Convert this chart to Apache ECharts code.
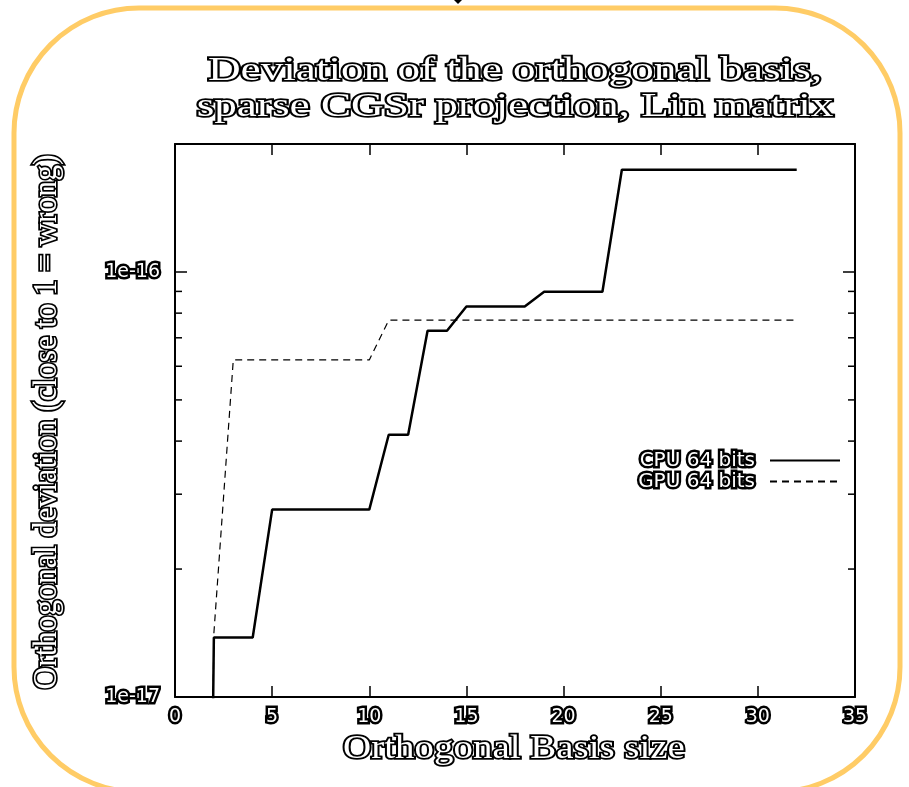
<!DOCTYPE html>
<html>
<head>
<meta charset="utf-8">
<script src="https://cdn.jsdelivr.net/npm/echarts@6/dist/echarts.min.js"></script>
<style>
html,body{margin:0;padding:0;background:#fff;}
#chart{width:909px;height:787px;}
</style>
</head>
<body>
<div id="chart"></div>
<script>
// ---- data ----
const basisSize = [1,2,3,4,5,6,7,8,9,10,11,12,13,14,15,16,17,18,19,20,21,22,23,24,25,26,27,28,29,30,31,32];
const cpu64 = [1e-21,1.38e-17,1.38e-17,1.38e-17,2.76e-17,2.76e-17,2.76e-17,2.76e-17,2.76e-17,2.76e-17,
               4.14e-17,4.14e-17,7.27e-17,7.27e-17,8.29e-17,8.29e-17,8.29e-17,8.29e-17,8.98e-17,8.98e-17,
               8.98e-17,8.98e-17,1.74e-16,1.74e-16,1.74e-16,1.74e-16,1.74e-16,1.74e-16,1.74e-16,1.74e-16,
               1.74e-16,1.74e-16];
const gpu64 = [1e-21,1.41e-17,6.21e-17,6.21e-17,6.21e-17,6.21e-17,6.21e-17,6.21e-17,6.21e-17,6.21e-17,
               7.70e-17,7.70e-17,7.70e-17,7.70e-17,7.70e-17,7.70e-17,7.70e-17,7.70e-17,7.70e-17,7.70e-17,
               7.70e-17,7.70e-17,7.70e-17,7.70e-17,7.70e-17,7.70e-17,7.70e-17,7.70e-17,7.70e-17,7.70e-17,
               7.70e-17,7.70e-17];
const seriesNames = ['CPU 64 bits', 'GPU 64 bits'];
const yMajorTicks = [1e-17, 1e-16];
const yMajorLabels = ['1e-17', '1e-16'];
const yMinorTicks = [2e-17,3e-17,4e-17,5e-17,6e-17,7e-17,8e-17,9e-17];
const X_MIN = 0, X_MAX = 35, X_STEP = 5;
const Y_MIN = 1e-17, Y_MAX = 2e-16;
const titleLines = ['Deviation of the orthogonal basis,', 'sparse CGSr projection, Lin matrix'];
const xName = 'Orthogonal Basis size';
const yName = 'Orthogonal deviation (close to 1 = wrong)';

// ---- chart ----
const chart = echarts.init(document.getElementById('chart'), null, {renderer: 'canvas'});
const sans = '"DejaVu Sans", "Liberation Sans", sans-serif';
const serif = '"Liberation Serif", "Times New Roman", serif';
const outlined = {color: '#fff', textBorderColor: '#000', textBorderWidth: 5};
const bigOutline = {fill: '#fff', stroke: '#000', lineWidth: 3.5};

function yLabel(v) {
  for (let i = 0; i < yMajorTicks.length; i++) {
    if (Math.abs(Math.log10(v) - Math.log10(yMajorTicks[i])) < 1e-6) return yMajorLabels[i];
  }
  return '';
}

const commonX = {
  type: 'value', min: X_MIN, max: X_MAX, interval: X_STEP,
  axisLine: {show: true, onZero: false, lineStyle: {color: '#000', width: 2}},
  axisTick: {show: true, inside: true, length: 11, lineStyle: {color: '#000', width: 1.5}},
  splitLine: {show: false}
};
const commonY = {
  type: 'log', logBase: 10, min: Y_MIN, max: Y_MAX,
  axisLine: {show: true, onZero: false, lineStyle: {color: '#000', width: 2}},
  axisTick: {show: true, inside: true, length: 12, lineStyle: {color: '#000', width: 1.5}},
  splitLine: {show: false}
};

chart.setOption({
  animation: false,
  backgroundColor: '#fff',
  grid: {left: 175, right: 54, top: 144, bottom: 90, containLabel: false},
  xAxis: [
    Object.assign({}, commonX, {
      position: 'bottom',
      axisLabel: Object.assign({show: true, fontFamily: sans, fontSize: 19, margin: 11}, outlined)
    }),
    Object.assign({}, commonX, {position: 'top', axisLabel: {show: false}})
  ],
  yAxis: [
    Object.assign({}, commonY, {
      position: 'left',
      axisLabel: Object.assign({show: true, fontFamily: sans, fontSize: 19, margin: 15,
        formatter: yLabel}, outlined)
    }),
    Object.assign({}, commonY, {position: 'right', axisLabel: {show: false}})
  ],
  legend: {
    data: seriesNames,
    orient: 'vertical',
    right: 63, top: 443,
    align: 'right',
    itemWidth: 70, itemHeight: 14, itemGap: -4,
    itemStyle: {color: 'rgba(0,0,0,0)', borderWidth: 0},
    textStyle: Object.assign({fontFamily: sans, fontSize: 20, lineHeight: 17, padding: [0, 10, 0, 0]}, outlined),
    selectedMode: false
  },
  series: [
    {
      name: seriesNames[0], type: 'line', xAxisIndex: 0, yAxisIndex: 0,
      data: basisSize.map((x, i) => [x, cpu64[i]]),
      symbol: 'none', showSymbol: false, clip: true,
      lineStyle: {color: '#000', width: 2.5, type: 'solid'},
      itemStyle: {color: '#000'}, z: 3
    },
    {
      name: seriesNames[1], type: 'line', xAxisIndex: 0, yAxisIndex: 0,
      data: basisSize.map((x, i) => [x, gpu64[i]]),
      symbol: 'none', showSymbol: false, clip: true,
      lineStyle: {color: '#000', width: 1.2, type: [7, 5]},
      itemStyle: {color: '#000'}, z: 2
    },
    {
      name: 'minorTicks', type: 'custom', xAxisIndex: 0, yAxisIndex: 0,
      data: yMinorTicks.map(v => [X_MIN, v]),
      silent: true, clip: false,
      renderItem: function (params, api) {
        const v = api.value(1);
        const l = api.coord([X_MIN, v]);
        const r = api.coord([X_MAX, v]);
        const st = {stroke: '#000', lineWidth: 1.5};
        return {
          type: 'group',
          children: [
            {type: 'line', shape: {x1: l[0], y1: l[1], x2: l[0] + 7, y2: l[1]}, style: st},
            {type: 'line', shape: {x1: r[0] - 7, y1: r[1], x2: r[0], y2: r[1]}, style: st}
          ]
        };
      }
    }
  ],
  graphic: [
    {type: 'rect', silent: true, z: -10,
     shape: {x: 14, y: 8, width: 886, height: 784, r: 125},
     style: {fill: null, stroke: '#FFCC66', lineWidth: 5}},
    {type: 'polygon', silent: true,
     shape: {points: [[454, 0], [462, 0], [458, 4]]}, style: {fill: '#000'}},
    {type: 'text', x: 515, y: 71, scaleX: 1.33, silent: true,
     style: Object.assign({text: titleLines[0], font: '34px ' + serif, textAlign: 'center', textVerticalAlign: 'middle'}, bigOutline)},
    {type: 'text', x: 515, y: 107, scaleX: 1.33, silent: true,
     style: Object.assign({text: titleLines[1], font: '34px ' + serif, textAlign: 'center', textVerticalAlign: 'middle'}, bigOutline)},
    {type: 'text', x: 514, y: 749, scaleX: 1.18, silent: true,
     style: Object.assign({text: xName, font: '33px ' + serif, textAlign: 'center', textVerticalAlign: 'middle'}, bigOutline)},
    {type: 'text', x: 47, y: 422, rotation: Math.PI / 2, scaleX: 0.96, silent: true,
     style: Object.assign({text: yName, font: '33px ' + serif, textAlign: 'center', textVerticalAlign: 'middle'}, bigOutline)}
  ]
});
</script>
</body>
</html>
